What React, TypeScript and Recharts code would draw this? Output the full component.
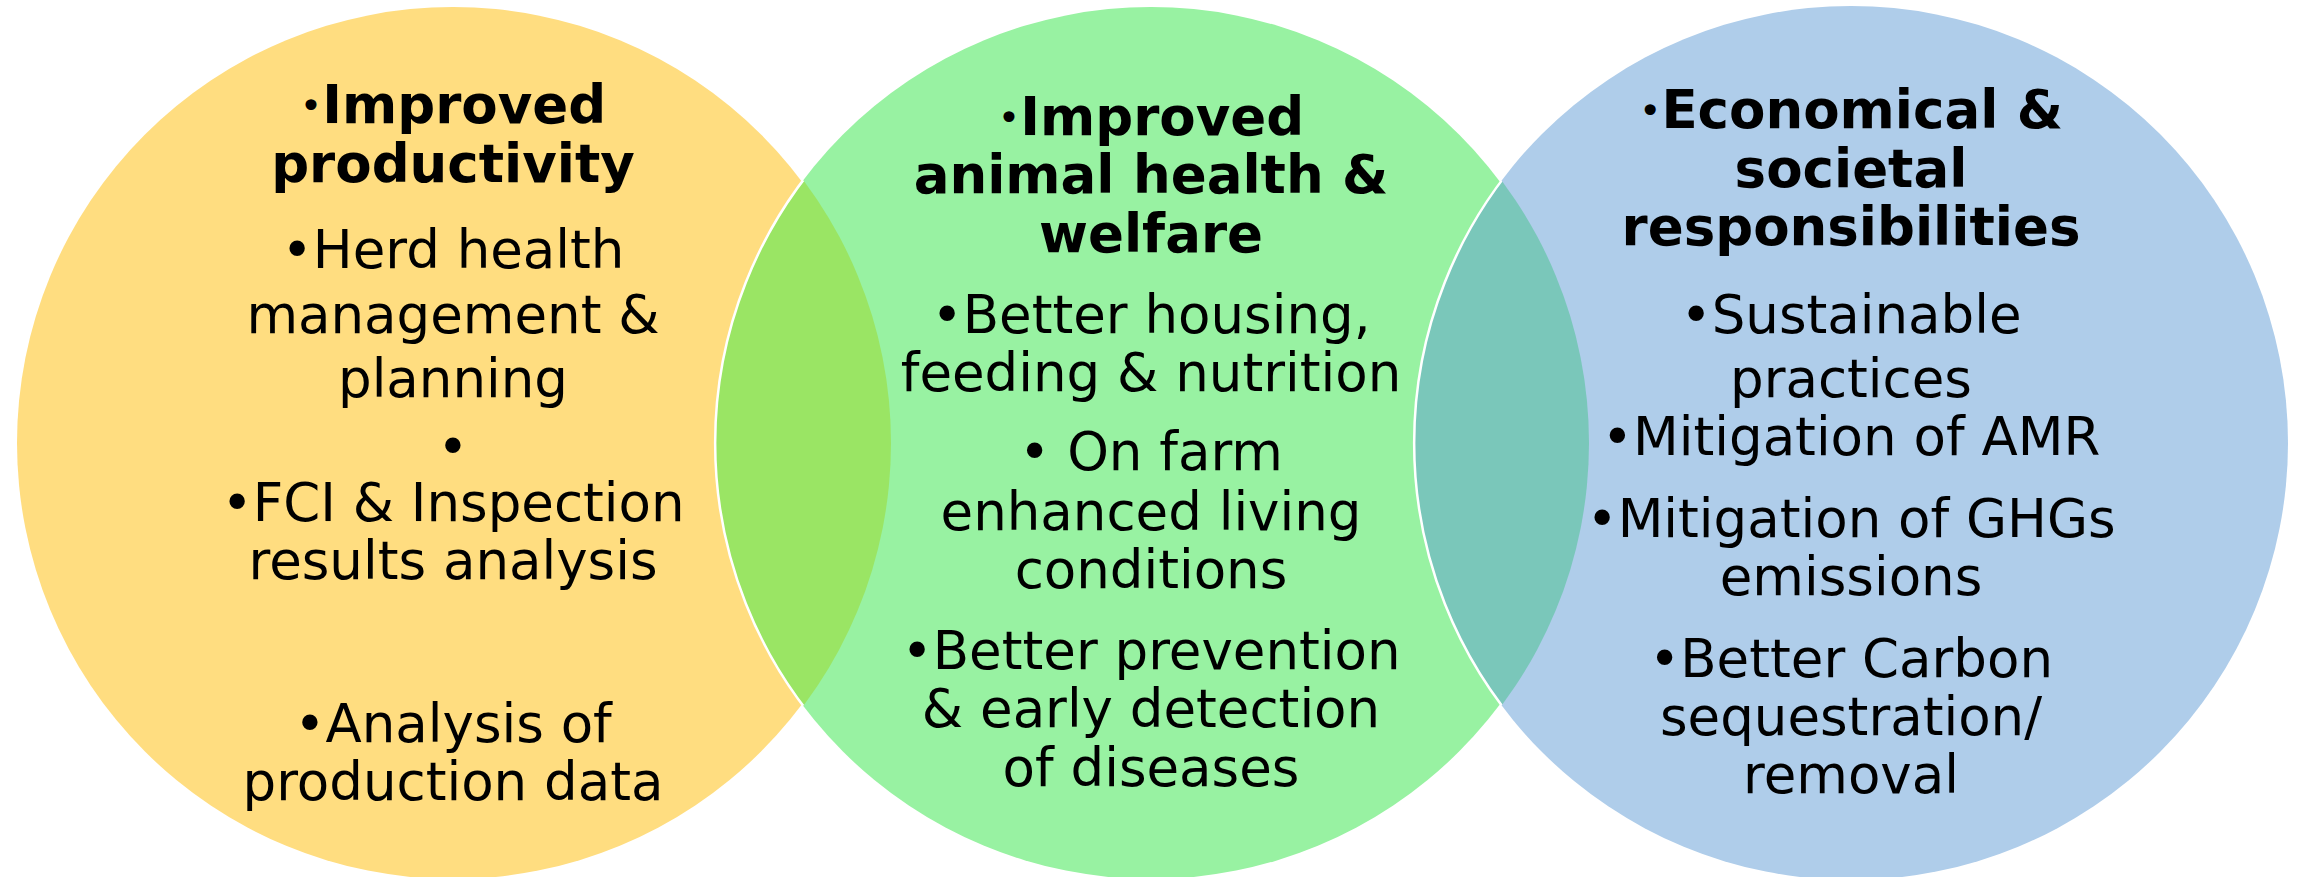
import { ScatterChart, Scatter, XAxis, YAxis } from "recharts";

const W = 2301;
const H = 877;

// three overlapping sets, centres and radii in page units (axes map 1:1 to px)
const CIRCLE_X = [453, 1151, 1851];
const CIRCLE_Y = [443, 443, 443];
const CIRCLE_R = [436, 436, 437];
const CIRCLE_COLORS = ["#FFDD80", "#98F2A2", "#AFCDEA"];
const OVERLAP_COLORS = ["#9AE564", "#7AC7BA"];

const TITLES = [
  ["Improved", "productivity"],
  ["Improved", "animal health &", "welfare"],
  ["Economical &", "societal", "responsibilities"],
];

const ITEMS = [
  [
    "•Herd health",
    "management &",
    "planning",
    "•",
    "•FCI & Inspection",
    "results analysis",
    "•Analysis of",
    "production data",
  ],
  [
    "•Better housing,",
    "feeding & nutrition",
    "• On farm",
    "enhanced living",
    "conditions",
    "•Better prevention",
    "& early detection",
    "of diseases",
  ],
  [
    "•Sustainable",
    "practices",
    "•Mitigation of AMR",
    "•Mitigation of GHGs",
    "emissions",
    "•Better Carbon",
    "sequestration/",
    "removal",
  ],
];

// text layout (baselines)
const TITLE_BASELINES = [
  [123, 182],
  [135, 193, 252],
  [128, 187, 245],
];
const ITEM_BASELINES = [
  [268, 333, 397, 465, 521, 579, 742, 800],
  [333, 391, 470, 530, 588, 669, 727, 786],
  [333, 397, 455, 537, 595, 677, 735, 793],
];

const FONT = "'DejaVu Sans', Verdana, sans-serif";
const FONT_SIZE = 53;

const circles = CIRCLE_X.map((x, i) => ({
  x,
  y: CIRCLE_Y[i],
  r: CIRCLE_R[i],
  fill: CIRCLE_COLORS[i],
}));

const lenses = OVERLAP_COLORS.map((fill, i) => ({
  x: CIRCLE_X[i + 1],
  y: CIRCLE_Y[i + 1],
  r: CIRCLE_R[i + 1],
  ox: CIRCLE_X[i],
  oy: CIRCLE_Y[i],
  or: CIRCLE_R[i],
  fill,
  id: `lens-clip-${i}`,
}));

const CircleShape = (props: any) => {
  const { cx, cy, payload } = props;
  return <circle cx={cx} cy={cy} r={payload.r} fill={payload.fill} />;
};

const LensShape = (props: any) => {
  const { cx, cy, payload } = props;
  const ocx = cx + (payload.ox - payload.x);
  const ocy = cy + (payload.oy - payload.y);
  return (
    <g>
      <defs>
        <clipPath id={payload.id}>
          <circle cx={ocx} cy={ocy} r={payload.or + 2} />
        </clipPath>
      </defs>
      <circle
        cx={cx}
        cy={cy}
        r={payload.r}
        fill={payload.fill}
        clipPath={`url(#${payload.id})`}
      />
    </g>
  );
};

// white rim only on the leading (left) arc, inside the previous circle
const EdgeShape = (props: any) => {
  const { cx, cy, payload } = props;
  const r = payload.r;
  return (
    <path
      d={`M${cx},${cy - r} A${r},${r} 0 0 0 ${cx},${cy + r}`}
      fill="none"
      stroke="#FFFFFF"
      strokeWidth={2.5}
      clipPath={`url(#${payload.id})`}
    />
  );
};

const TextShape = (props: any) => {
  const { cx, cy, payload } = props;
  return (
    <text
      x={cx}
      y={cy}
      textAnchor="middle"
      fontFamily={FONT}
      fontSize={FONT_SIZE}
      fontWeight={payload.bold ? 700 : 400}
      fill="#000000"
    >
      {payload.bullet && (
        <tspan fontSize={38} fontWeight={400} dy={-4}>
          •
        </tspan>
      )}
      <tspan dy={payload.bullet ? 4 : 0}>{payload.text}</tspan>
    </text>
  );
};

const textRows = CIRCLE_X.flatMap((x, i) => [
  ...TITLES[i].map((t, j) => ({
    x,
    y: TITLE_BASELINES[i][j],
    text: t,
    bold: true,
    bullet: j === 0,
  })),
  ...ITEMS[i].map((t, j) => ({
    x,
    y: ITEM_BASELINES[i][j],
    text: t,
    bold: false,
    bullet: false,
  })),
]);

export default function App() {
  return (
    <div style={{ position: "absolute", left: 0, top: 0, background: "#FFFFFF" }}>
      <ScatterChart width={W} height={H} margin={{ top: 0, right: 0, bottom: 0, left: 0 }}>
        <XAxis type="number" dataKey="x" domain={[0, W]} allowDataOverflow hide />
        <YAxis type="number" dataKey="y" domain={[0, H]} allowDataOverflow reversed hide />
        <Scatter data={circles} shape={CircleShape} isAnimationActive={false} />
        <Scatter data={lenses} shape={LensShape} isAnimationActive={false} />
        <Scatter data={lenses} shape={EdgeShape} isAnimationActive={false} />
        <Scatter data={textRows} shape={TextShape} isAnimationActive={false} />
      </ScatterChart>
    </div>
  );
}
